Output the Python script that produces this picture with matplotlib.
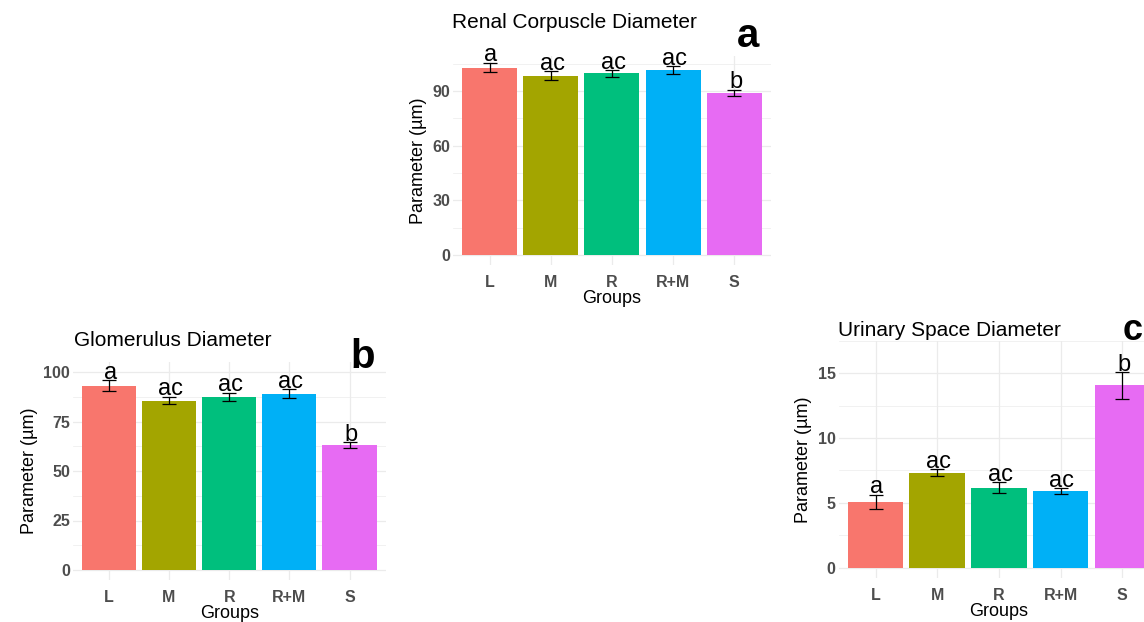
import numpy as np
import matplotlib
matplotlib.use("Agg")
import matplotlib.pyplot as plt

plt.rcParams['font.family'] = ['Liberation Sans', 'DejaVu Sans']

groups = ["L", "M", "R", "R+M", "S"]
colors = ["#F8766D", "#A3A500", "#00BF7D", "#00B0F6", "#E76BF3"]

# Renal corpuscle diameter (a)
rc_mean = [102.8, 98.4, 99.6, 101.5, 88.8]
rc_se = [2.6, 2.3, 1.9, 2.0, 1.8]
rc_letters = ["a", "ac", "ac", "ac", "b"]

# Glomerulus diameter (b)
gl_mean = [93.1, 85.6, 87.5, 89.0, 63.0]
gl_se = [2.7, 2.0, 2.0, 2.3, 1.5]
gl_letters = ["a", "ac", "ac", "ac", "b"]

# Urinary space diameter (c)
us_mean = [5.08, 7.32, 6.16, 5.9, 14.07]
us_se = [0.54, 0.28, 0.42, 0.22, 1.03]
us_letters = ["a", "ac", "ac", "ac", "b"]

W, H = 1144, 622
fig = plt.figure(figsize=(W / 100, H / 100), dpi=100)


def px_axes(x0, x1, y_top, y_bot):
    return fig.add_axes([x0 / W, 1 - y_bot / H, (x1 - x0) / W, (y_bot - y_top) / H])


def panel(ax, means, ses, letters, ylim, major, minor):
    x = np.arange(1, len(groups) + 1)
    ax.set_axisbelow(True)
    ax.bar(x, means, width=0.9, color=colors, zorder=2)
    ax.errorbar(x, means, yerr=ses, fmt="none", ecolor="black", elinewidth=0.9,
                capsize=5, capthick=0.9, zorder=3)
    for xi, m, s, lab in zip(x, means, ses, letters):
        ax.annotate(lab, (xi, m + s), xytext=(1, 1), textcoords="offset points",
                    ha="center", va="baseline", fontsize=17, color="black", zorder=4)
    ax.set_xlim(0.4, 5.6)
    ax.set_ylim(*ylim)
    ax.set_xticks(x)
    ax.set_xticklabels(groups)
    ax.set_yticks(major)
    ax.set_yticks(minor, minor=True)
    ax.grid(True, which="major", color="#EBEBEB", linewidth=0.9)
    ax.grid(True, which="minor", axis="y", color="#EBEBEB", linewidth=0.5)
    for sp in ax.spines.values():
        sp.set_visible(False)
    ax.tick_params(length=0, which="both")
    ax.tick_params(axis="x", pad=7, labelsize=11.5, labelcolor="#4D4D4D")
    ax.tick_params(axis="y", pad=2, labelsize=11.5, labelcolor="#4D4D4D")
    for t in ax.get_xticklabels() + ax.get_yticklabels():
        t.set_fontweight("bold")
    ax.set_xlabel("Groups", fontsize=13, labelpad=0)
    ax.set_ylabel("Parameter (µm)", fontsize=13, labelpad=4)


ax_a = px_axes(452.8, 771, 56.3, 265)
panel(ax_a, rc_mean, rc_se, rc_letters, (-5.5, 109), [0, 30, 60, 90], [15, 45, 75, 105])

ax_b = px_axes(72.7, 385.7, 362.1, 579.9)
panel(ax_b, gl_mean, gl_se, gl_letters, (-5, 105), [0, 25, 50, 75, 100], [12.5, 37.5, 62.5, 87.5])

ax_c = px_axes(838.5, 1159.3, 340.9, 577.9)
panel(ax_c, us_mean, us_se, us_letters, (-0.8, 17.5), [0, 5, 10, 15], [2.5, 7.5, 12.5, 17.5])

# titles
fig.text(452 / W, 1 - 22 / H, "Renal Corpuscle Diameter", fontsize=15, ha="left", va="center")
fig.text(74 / W, 1 - 340 / H, "Glomerulus Diameter", fontsize=15, ha="left", va="center")
fig.text(838 / W, 1 - 331 / H, "Urinary Space Diameter", fontsize=15, ha="left", va="center")

# panel letters
fig.text(748 / W, 1 - 36 / H, "a", fontsize=29, fontweight="bold", ha="center", va="center")
fig.text(363 / W, 1 - 357 / H, "b", fontsize=29, fontweight="bold", ha="center", va="center")
fig.text(1133 / W, 1 - 331 / H, "c", fontsize=26, fontweight="bold", ha="center", va="center")

fig.savefig("out.png", dpi=100)
